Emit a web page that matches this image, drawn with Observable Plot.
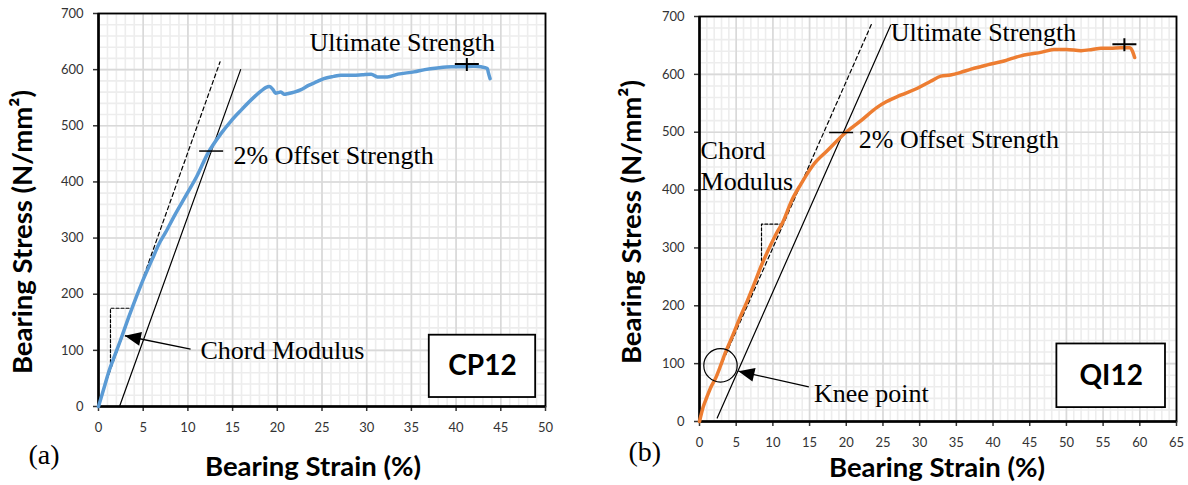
<!DOCTYPE html>
<html><head><meta charset="utf-8">
<script src="https://cdn.jsdelivr.net/npm/d3@7"></script>
<script src="https://cdn.jsdelivr.net/npm/@observablehq/plot@0.6"></script>
<style>
html,body{margin:0;padding:0;background:#fff;}
#wrap{position:relative;width:1188px;height:485px;overflow:hidden;background:#fff;}
#wrap svg{position:absolute;top:0;}
</style></head><body><div id="wrap"></div>
<script>
// ---------- Data ----------
// (a) CP12 bearing stress-strain curve
const cpStrain = [0,0.6,1.15,1.8,2.46,3.4,4.2,5,6,6.75,7.5,8.5,9.9,11,12.2,13.7,14.8,15.9,17.4,18.2,18.7,19.1,19.5,19.8,20.4,20.8,21.1,21.9,22.6,23.5,24.5,25.2,26.3,27.1,28.5,29.5,30.5,31.2,32.3,33.5,35.3,36.5,37.9,39.5,40.9,42,42.8,43.5,43.6,43.8];
const cpStress = [0,32,62,90,118,160,194,226,262,289,310,340,379,410,450,486,508,527,551,562,568,570,565,558,560,556,557,560,564,572,579,584,588,590,590,591,592,587,587,592,596,600,603,605,605,606,605,602,595,584];
// (b) QI12 bearing stress-strain curve
const qiStrain = [0,0.5,1,1.5,2.2,2.86,3.5,4.5,5.6,6.5,7.4,8.45,9.7,10.6,11.3,12.6,13.8,15.6,17.4,19.7,22,24.2,25.5,27.4,29.7,31.5,32.9,34.2,35.5,37,38.5,39.7,41.5,42.7,43.8,45,46.5,48.3,50,52,53.5,54.7,56,57.4,58.6,59,59.3];
const qiStress = [0,25,42,58,75,96,118,148,182,208,236,270,305,328,343,383,410,445,468,497,520,543,553,564,576,588,597,599,603,609,614,618,623,628,632,635,638,643,643,641,643,645,645,646,646,640,629];

// Construction lines [strain, stress]
const cpChordLine = [[0.1,10],[13.6,614]];
const cpChordTri = [[1.34,78],[1.34,175],[3.6,175]];
const cpOffsetLine = [[2.35,0],[15.9,600]];
const qiChordLine = [[0.1,15.5],[23.55,690]];
const qiChordTri = [[8.45,269],[8.45,341],[11.3,341]];
const qiOffsetLine = [[2.41,6],[26.05,685]];

// Markers
const cpUltimate = [41.2, 610];
const cpOffsetPt = [12.6, 455];
const qiUltimate = [57.9, 652];
const qiOffsetPt = [19.3, 499.5];
const qiKnee = [2.86, 97];

// Annotations: [strain, stress, text]
const cpNotes = [[23.6,634,"Ultimate Strength"],[15.1,432,"2% Offset Strength"],[11.4,85,"Chord Modulus"]];
const qiNotes = [[26.05,658,"Ultimate Strength"],[21.7,473,"2% Offset Strength"],[0.15,453,"Chord"],[0.15,400,"Modulus"],[15.6,33,"Knee point"]];
// Arrows: tail -> tip
const cpArrow = {x1:10.3, y1:102, x2:2.95, y2:126, angle:-78.6};
const qiArrow = {x1:14.9, y1:60, x2:5.3, y2:87, angle:-77.2};
// Specimen boxes
const cpBox = {x1:37.0, x2:48.9, y1:16, y2:127, label:"CP12"};
const qiBox = {x1:48.7, x2:63.5, y1:24, y2:134, label:"QI12"};

const cpXTicks = [0,5,10,15,20,25,30,35,40,45,50];
const qiXTicks = [0,5,10,15,20,25,30,35,40,45,50,55,60,65];
const yTicks = [0,100,200,300,400,500,600,700];

const xLabel = "Bearing Strain (%)";
const yLabel = "Bearing Stress (N/mm²)";

// ---------- Symbols ----------
const headSym = {draw(c){c.moveTo(0,0);c.lineTo(-7,16);c.lineTo(7,16);c.closePath();}};
const plusSym = {draw(c){c.moveTo(-12,0);c.lineTo(12,0);c.moveTo(0,-6);c.lineTo(0,7);}};
const barSym = {draw(c){c.moveTo(-12,0);c.lineTo(12,0);}};

const sansBold = "Lato, 'Open Sans', sans-serif";
const serif = "'Liberation Serif', 'Times New Roman', serif";

function panel(cfg) {
  const pts = cfg.xs.map((x,i)=>({x, y: cfg.ys[i]}));
  const toPts = a => a.map(([x,y])=>({x,y}));
  const xmax = cfg.xTicks[cfg.xTicks.length-1];
  return Plot.plot({
    width: 594, height: 485,
    marginLeft: cfg.ml, marginRight: cfg.mr, marginTop: cfg.mt, marginBottom: cfg.mb,
    x: {domain: [0, xmax]},
    y: {domain: [0, 700]},
    style: {background: "transparent", overflow: "visible", fontFamily: "Lato, sans-serif"},
    marks: [
      Plot.ruleX(d3.range(0, xmax + 0.5, 1), {stroke: "#ededed", strokeWidth: 1.6}),
      Plot.ruleY(d3.range(0, 701, 20), {stroke: "#ededed", strokeWidth: 1.6}),
      Plot.ruleX(cfg.xTicks, {stroke: "#d9d9d9", strokeWidth: 1.6}),
      Plot.ruleY(yTicks, {stroke: "#d9d9d9", strokeWidth: 1.6}),
      Plot.frame({stroke: "black", strokeWidth: 1.8}),
      Plot.axisX({ticks: cfg.xTicks, tickSize: 5, tickPadding: 11, label: null, fontSize: 13, color: "#333", strokeWidth: 1.5}),
      Plot.axisY({ticks: yTicks, tickSize: 5, tickPadding: 10, label: null, fontSize: 13, color: "#333", strokeWidth: 1.5}),
      Plot.ruleX([0], {stroke: "black", strokeWidth: 2.5}),
      Plot.ruleY([0], {stroke: "black", strokeWidth: 2.5}),
      Plot.rect([cfg.box], {x1: "x1", x2: "x2", y1: "y1", y2: "y2", fill: "white", stroke: "black", strokeWidth: 1.8}),
      Plot.text([cfg.box], {x: d => (d.x1 + d.x2) / 2, y: d => (d.y1 + d.y2) / 2, text: "label", fontSize: 28, fontWeight: "bold", fontFamily: sansBold, fill: "black"}),
      Plot.line(toPts(cfg.chord), {x: "x", y: "y", stroke: "black", strokeWidth: 1.2, strokeDasharray: "4,3"}),
      Plot.line(toPts(cfg.tri), {x: "x", y: "y", stroke: "black", strokeWidth: 1.2, strokeDasharray: "3,2"}),
      Plot.line(toPts(cfg.offset), {x: "x", y: "y", stroke: "black", strokeWidth: 1.2}),
      Plot.line(pts, {x: "x", y: "y", stroke: cfg.color, strokeWidth: 3.5, curve: "monotone-x"}),
      Plot.dot([cfg.ult], {x: d => d[0], y: d => d[1], symbol: plusSym, fill: "none", stroke: "black", strokeWidth: 2}),
      Plot.dot([cfg.off], {x: d => d[0], y: d => d[1], symbol: barSym, fill: "none", stroke: "black", strokeWidth: 1.5}),
      ...(cfg.knee ? [Plot.dot([cfg.knee], {x: d => d[0], y: d => d[1], r: 16.7, fill: "none", stroke: "black", strokeWidth: 1.2})] : []),
      Plot.link([cfg.arrow], {x1: "x1", y1: "y1", x2: "x2", y2: "y2", stroke: "black", strokeWidth: 1.3}),
      Plot.dot([cfg.arrow], {x: "x2", y: "y2", symbol: headSym, rotate: cfg.arrow.angle, fill: "black", stroke: "none"}),
      Plot.text(cfg.notes, {x: d => d[0], y: d => d[1], text: d => d[2], textAnchor: "start", lineAnchor: "bottom", fontFamily: serif, fontSize: 26, fill: "black"}),
      Plot.text([xLabel], {frameAnchor: "bottom", dx: cfg.xlDx, dy: cfg.xlDy, textAnchor: "middle", lineAnchor: "bottom", fontSize: 27.5, fontWeight: "bold", fontFamily: sansBold, fill: "black"}),
      Plot.text([yLabel], {frameAnchor: "left", rotate: -90, dx: cfg.ylDx, dy: cfg.ylDy, textAnchor: "middle", lineAnchor: "middle", fontSize: 27.5, fontWeight: "bold", fontFamily: sansBold, fill: "black"}),
      Plot.text([cfg.tag], {frameAnchor: "bottom-left", dx: cfg.tagDx, dy: cfg.tagDy, textAnchor: "start", lineAnchor: "bottom", fontSize: 28, fontFamily: serif, fill: "black"})
    ]
  });
}

const left = panel({
  xs: cpStrain, ys: cpStress, color: "#5b9bd5", xTicks: cpXTicks,
  ml: 98, mr: 49, mt: 13, mb: 79,
  chord: cpChordLine, tri: cpChordTri, offset: cpOffsetLine,
  ult: cpUltimate, off: cpOffsetPt, knee: null,
  arrow: cpArrow, notes: cpNotes, box: cpBox,
  xlDx: -9, xlDy: 69, ylDx: -75, ylDy: 22, tag: "(a)", tagDx: -70, tagDy: 57
});
const right = panel({
  xs: qiStrain, ys: qiStress, color: "#ed7d31", xTicks: qiXTicks,
  ml: 105, mr: 12, mt: 16, mb: 64,
  chord: qiChordLine, tri: qiChordTri, offset: qiOffsetLine,
  ult: qiUltimate, off: qiOffsetPt, knee: qiKnee,
  arrow: qiArrow, notes: qiNotes, box: qiBox,
  xlDx: -1, xlDy: 55, ylDx: -67, ylDy: 3, tag: "(b)", tagDx: -71, tagDy: 39
});
left.style.left = "0px";
right.style.left = "594px";
const wrap = document.getElementById("wrap");
wrap.appendChild(left);
wrap.appendChild(right);
</script>
</body></html>
